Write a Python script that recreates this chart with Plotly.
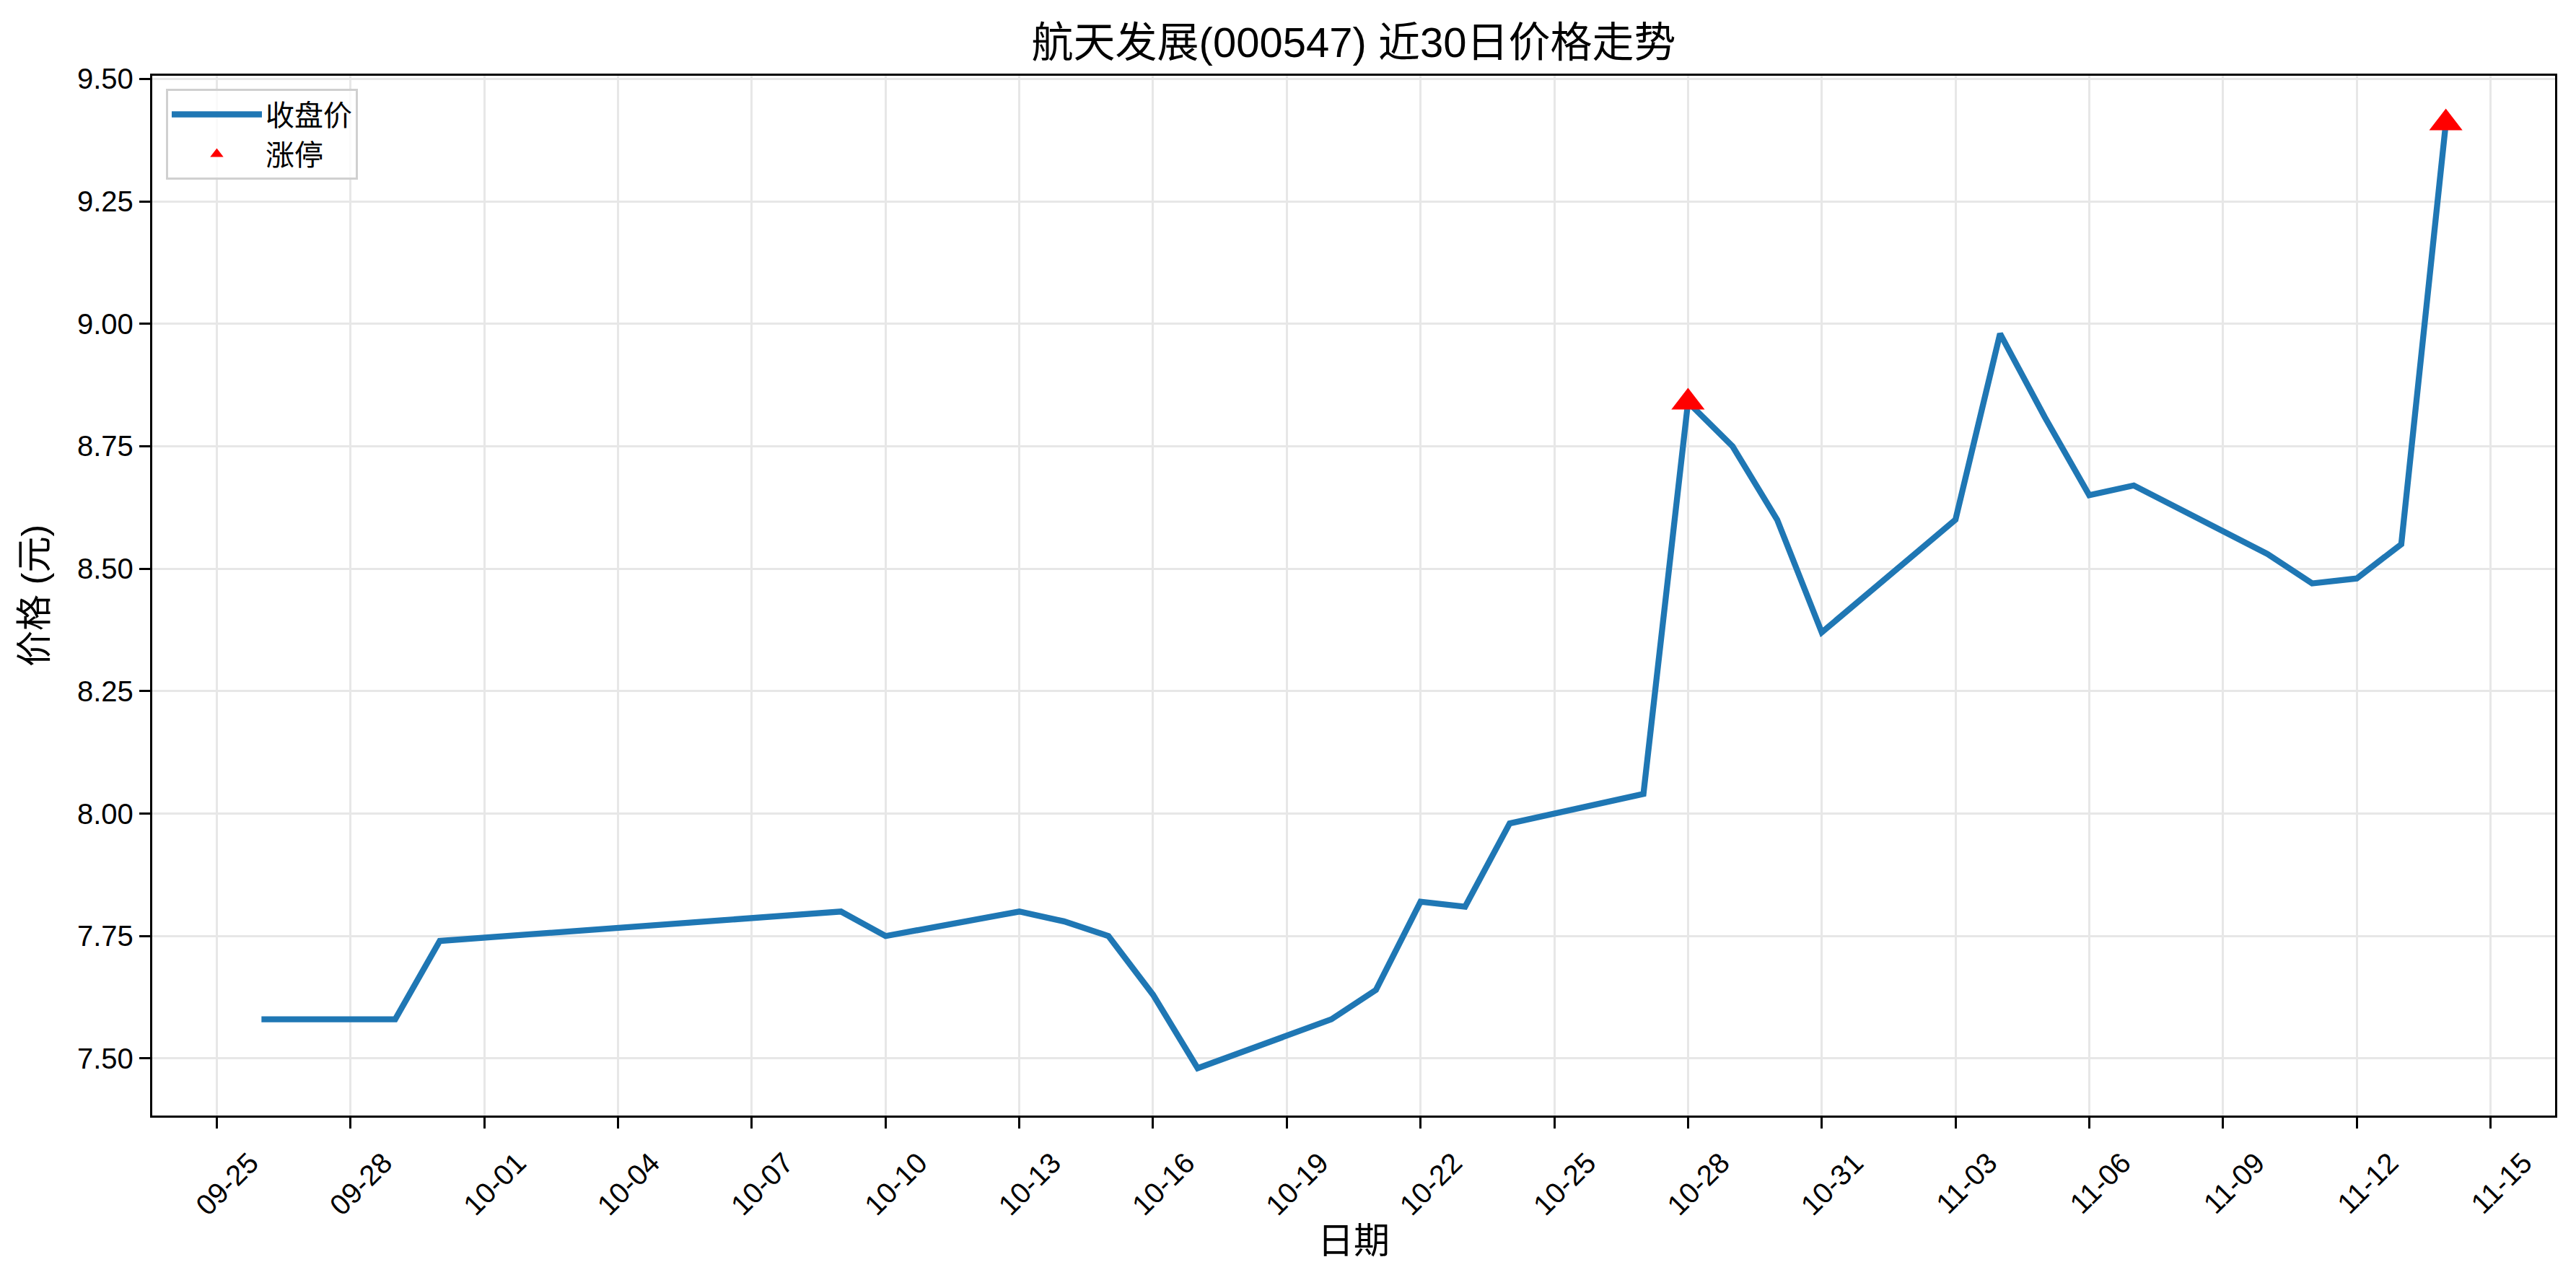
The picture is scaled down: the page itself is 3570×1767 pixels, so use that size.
import plotly.graph_objects as go

dates = ["2025-09-26", "2025-09-29", "2025-09-30", "2025-10-09", "2025-10-10",
         "2025-10-13", "2025-10-14", "2025-10-15", "2025-10-16", "2025-10-17",
         "2025-10-20", "2025-10-21", "2025-10-22", "2025-10-23", "2025-10-24",
         "2025-10-27", "2025-10-28", "2025-10-29", "2025-10-30", "2025-10-31",
         "2025-11-03", "2025-11-04", "2025-11-05", "2025-11-06", "2025-11-07",
         "2025-11-10", "2025-11-11", "2025-11-12", "2025-11-13", "2025-11-14"]
close = [7.58, 7.58, 7.74, 7.80, 7.75,
         7.80, 7.78, 7.75, 7.63, 7.48,
         7.58, 7.64, 7.82, 7.81, 7.98,
         8.04, 8.84, 8.75, 8.60, 8.37,
         8.60, 8.98, 8.81, 8.65, 8.67,
         8.53, 8.47, 8.48, 8.55, 9.41]
limit_up_dates = ["2025-10-28", "2025-11-14"]
limit_up_prices = [8.84, 9.41]

x_tick_dates = ["2025-09-25", "2025-09-28", "2025-10-01", "2025-10-04", "2025-10-07",
                "2025-10-10", "2025-10-13", "2025-10-16", "2025-10-19", "2025-10-22",
                "2025-10-25", "2025-10-28", "2025-10-31", "2025-11-03", "2025-11-06",
                "2025-11-09", "2025-11-12", "2025-11-15"]
y_ticks = [7.50, 7.75, 8.00, 8.25, 8.50, 8.75, 9.00, 9.25, 9.50]

FONT = "Arial, 'Liberation Sans', 'Noto Sans CJK SC', sans-serif"
GRID = "#e7e7e7"

# the page body has an 8px margin, so the figure is drawn 8px in from the top-left
W, H = 3562, 1759

fig = go.Figure()
fig.add_trace(go.Scatter(x=dates, y=close, mode="lines", name="收盘价",
                         line=dict(color="#1f77b4", width=8.3)))
fig.add_trace(go.Scatter(x=limit_up_dates, y=limit_up_prices, mode="markers", name="涨停",
                         marker=dict(symbol="triangle-up", color="#ff0000", size=40,
                                     line=dict(width=0))))

fig.update_layout(
    width=W, height=H,
    paper_bgcolor="white", plot_bgcolor="white",
    margin=dict(l=203, r=29, t=97, b=221),
    font=dict(family=FONT, size=40, color="black"),
    title=dict(text="航天发展(000547) 近30日价格走势", xref="paper", x=0.5, xanchor="center",
               yref="container", y=1 - 51 / H, yanchor="middle", font=dict(size=58)),
    showlegend=True,
    legend=dict(x=0.0057, y=0.9875, xanchor="left", yanchor="top",
                bgcolor="rgba(255,255,255,0.8)", bordercolor="#d0d0d0", borderwidth=3,
                font=dict(size=40), itemwidth=125, tracegroupgap=0),
)

fig.update_xaxes(
    type="date",
    range=["2025-09-23 13:12", "2025-11-16 10:48"],
    tickvals=x_tick_dates, tickformat="%m-%d", tickangle=-45,
    ticks="outside", ticklen=15, tickwidth=3.3, tickcolor="black",
    ticklabelshift=46, ticklabelstandoff=8,
    showgrid=True, gridcolor=GRID, gridwidth=3.3,
    showline=True, linecolor="black", linewidth=3.3, mirror=True,
    zeroline=False,
    title=dict(text="日期", font=dict(size=50), standoff=0),
    automargin=False,
)
fig.update_yaxes(
    range=[7.3835, 9.5065],
    tickvals=y_ticks, tickformat=".2f",
    ticks="outside", ticklen=15, tickwidth=3.3, tickcolor="black",
    showgrid=True, gridcolor=GRID, gridwidth=3.3,
    showline=True, linecolor="black", linewidth=3.3, mirror=True,
    zeroline=False,
    title=dict(text="价格 (元)", font=dict(size=50), standoff=26),
    automargin=False,
)

fig.write_html("out.html")
